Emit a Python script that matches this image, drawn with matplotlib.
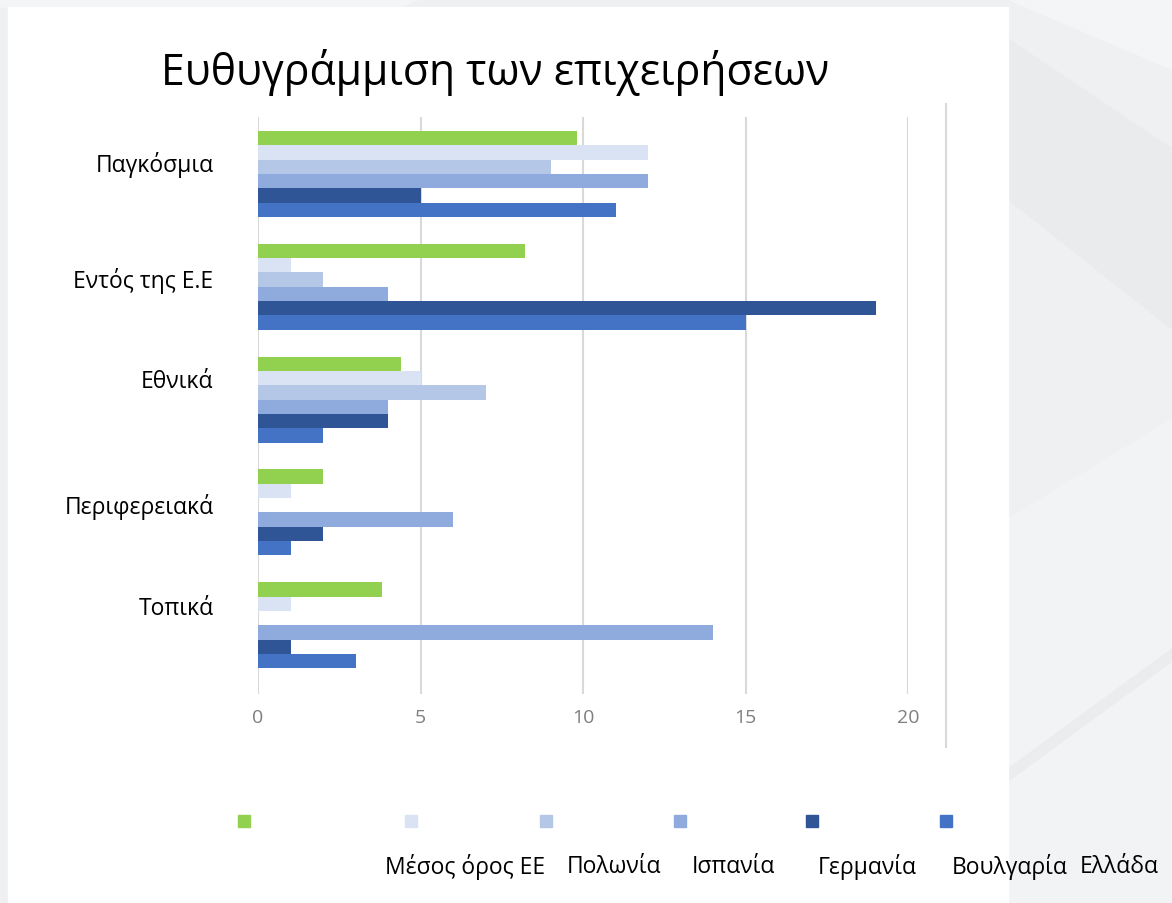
import numpy as np
import matplotlib
matplotlib.use("Agg")
import matplotlib.pyplot as plt
from matplotlib.patches import Rectangle, Polygon

plt.rcParams['font.family'] = ['Open Sans', 'DejaVu Sans']

# categories (top to bottom) and series values
categories = ["Παγκόσμια", "Εντός της Ε.Ε", "Εθνικά", "Περιφερειακά", "Τοπικά"]
green_vals = [9.8, 8.2, 4.4, 2, 3.8]
vlight_vals = [12, 1, 5, 1, 1]
light_vals = [9, 2, 7, 0, 0]
medium_vals = [12, 4, 4, 6, 14]
dark_vals = [5, 19, 4, 2, 1]
blue_vals = [11, 15, 2, 1, 3]
legend_labels = ["Μέσος όρος ΕΕ", "Πολωνία", "Ισπανία", "Γερμανία", "Βουλγαρία", "Ελλάδα"]
xticks = [0, 5, 10, 15, 20]

series = [green_vals, vlight_vals, light_vals, medium_vals, dark_vals, blue_vals]
colors = ["#92d050", "#dae3f3", "#b4c7e7", "#8faadc", "#2f5597", "#4472c4"]

W, H = 1172, 904
fig = plt.figure(figsize=(W / 100, H / 100), dpi=100, facecolor="#eef0f1")

# background with soft diagonal streaks + white panel
bg = fig.add_axes([0, 0, 1, 1], zorder=-10)
bg.set_xlim(0, W)
bg.set_ylim(H, 0)
bg.axis("off")
bg.add_patch(Polygon([(1008, 0), (1172, 0), (1172, 70), (1008, 0)], color="#f4f5f6"))
bg.add_patch(Polygon([(1008, 40), (1172, 150), (1172, 330), (1008, 200)], color="#e9ebed"))
bg.add_patch(Polygon([(1008, 520), (1172, 420), (1172, 904), (1008, 904)], color="#f2f3f4"))
bg.add_patch(Polygon([(1008, 770), (1172, 650), (1172, 662), (1008, 782)], color="#eaeced"))
bg.add_patch(Polygon([(0, 0), (420, 0), (400, 8), (0, 8)], color="#f4f5f6"))
bg.add_patch(Rectangle((8, 8), 1000, 900, color="white"))
bg.plot([946, 946], [105, 748], color="#d9d9d9", lw=1.5)

# legend markers (no labels beside them)
for lx, c in zip([244, 411, 546, 680, 812, 946], colors):
    bg.add_patch(Rectangle((lx - 6, 816), 12, 12, color=c))
# legend labels, placed below the markers
for lx, lab in zip([385, 567, 692, 818, 952, 1080], legend_labels):
    bg.text(lx, 867, lab, ha="left", va="center", fontsize=16.5, color="black")

fig.text(495 / W, 1 - 72 / H, "Ευθυγράμμιση των επιχειρήσεων", ha="center", va="center",
         fontsize=30.8, color="black")

ax = fig.add_axes([258 / W, 1 - 695 / H, 650 / W, 577 / H])
ax.set_facecolor("none")

h = 0.127
y = np.arange(len(categories))
for j, (vals, c) in enumerate(zip(series, colors)):
    ax.barh(y + (j - 2.5) * h, vals, height=h, color=c, zorder=3)

# category labels sit a little above each group's centre
label_shift = np.array([0.11, 0.09, 0.19, 0.08, 0.18])
ax.set_xlim(0, 20)
ax.set_ylim(4.61, -0.504)
ax.set_xticks(xticks)
ax.set_xticklabels([str(t) for t in xticks], color="#7f7f7f", fontsize=14)
ax.set_yticks(y - label_shift)
ax.set_yticklabels(categories, fontsize=16.5)
ax.tick_params(axis="y", length=0, pad=32)
ax.tick_params(axis="x", length=0, pad=10)
ax.grid(axis="x", color="#d9d9d9", lw=1.5, zorder=0)
for s in ax.spines.values():
    s.set_visible(False)

fig.savefig("out.png", dpi=100, facecolor=fig.get_facecolor())
